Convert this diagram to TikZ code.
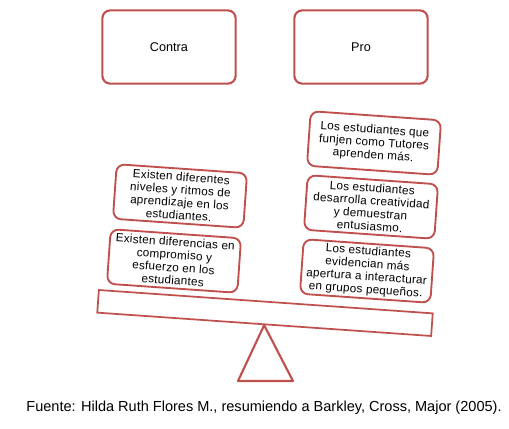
\documentclass[tikz,border=0pt]{standalone}
\usepackage{fontspec}
\setmainfont{Liberation Sans}
\definecolor{balancered}{HTML}{C0504D}
\tikzset{
  headbox/.style={draw=balancered, line width=1.6pt, rounded corners=6pt, fill=white,
    minimum width=100pt, minimum height=55pt, font=\fontsize{9.5}{11}\selectfont},
  argbox/.style={draw=balancered, line width=1.4pt, rounded corners=6pt, fill=white,
    minimum width=98pt, minimum height=41pt, align=center, inner sep=0.5pt,
    rotate=-4, font=\fontsize{8.8}{9.6}\selectfont\addfontfeatures{LetterSpace=2}},
}
\begin{document}
\begin{tikzpicture}[x=0.75pt, y=-0.75pt]
  \useasboundingbox (0, 0) rectangle (509, 428);
  % top labels
  \node[headbox] (contra) at (169, 47) {Contra};
  \node[headbox] (pro) at (361, 47) {Pro};
  % beam and stand
  \node[draw=balancered, line width=1.3pt, fill=white, rotate=-4, minimum width=251pt,
    minimum height=17pt, inner sep=0pt] (beam) at (265, 313) {};
  \draw[balancered, line width=1.6pt, line join=round] (beam.south) -- (238, 381) -- (293, 381) -- cycle;
  % contra side
  \node[argbox] (c1) at (180, 196) {Existen diferentes\\niveles y ritmos de\\aprendizaje en los\\estudiantes.};
  \node[argbox] (c2) at (174, 261) {Existen diferencias en\\compromiso y\\esfuerzo en los\\estudiantes};
  % pro side
  \node[argbox] (p1) at (374, 143) {Los estudiantes que\\funjen como Tutores\\aprenden más.};
  \node[argbox] (p2) at (371, 207) {Los estudiantes\\desarrolla creatividad\\y demuestran\\entusiasmo.};
  \node[argbox] (p3) at (367, 271) {Los estudiantes\\evidencian más\\apertura a interacturar\\en grupos pequeños.};
  % source
  \node[font=\fontsize{10.9}{12}\selectfont] (fuente) at (264, 408)
    {Fuente: Hilda Ruth Flores M., resumiendo a Barkley, Cross, Major (2005).};
\end{tikzpicture}
\end{document}
